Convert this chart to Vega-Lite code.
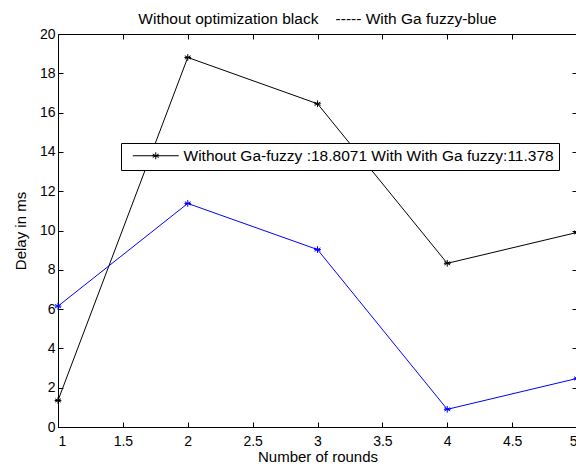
{
  "$schema": "https://vega.github.io/schema/vega-lite/v6.json",
  "width": 519,
  "height": 393,
  "autosize": {"type": "none"},
  "padding": {"left": 58, "top": 34, "right": 0, "bottom": 39},
  "background": "white",
  "config": {
    "font": "Liberation Sans",
    "view": {"stroke": null},
    "axis": {
      "grid": false,
      "domainColor": "black",
      "domainWidth": 1,
      "tickColor": "black",
      "tickSize": -5,
      "labelColor": "black",
      "labelFontSize": 14,
      "labelFont": "Liberation Sans",
      "titleFont": "Liberation Sans",
      "titleFontSize": 15,
      "titleFontWeight": "normal",
      "titleColor": "black"
    }
  },
  "title": {
    "text": "Without optimization black \u00a0 \u00a0----- With Ga fuzzy-blue",
    "fontSize": 15.5,
    "fontWeight": "normal",
    "color": "black",
    "font": "Liberation Sans",
    "offset": 0
  },
  "data": {
    "values": [
      {"round": 1, "delay": 1.35, "series": "Without Ga-fuzzy :18.8071 With With Ga fuzzy:11.378"},
      {"round": 2, "delay": 18.8071, "series": "Without Ga-fuzzy :18.8071 With With Ga fuzzy:11.378"},
      {"round": 3, "delay": 16.45, "series": "Without Ga-fuzzy :18.8071 With With Ga fuzzy:11.378"},
      {"round": 4, "delay": 8.33, "series": "Without Ga-fuzzy :18.8071 With With Ga fuzzy:11.378"},
      {"round": 5, "delay": 9.9, "series": "Without Ga-fuzzy :18.8071 With With Ga fuzzy:11.378"},
      {"round": 1, "delay": 6.15, "series": "With Ga fuzzy"},
      {"round": 2, "delay": 11.378, "series": "With Ga fuzzy"},
      {"round": 3, "delay": 9.03, "series": "With Ga fuzzy"},
      {"round": 4, "delay": 0.9, "series": "With Ga fuzzy"},
      {"round": 5, "delay": 2.47, "series": "With Ga fuzzy"}
    ]
  },
  "resolve": {"axis": {"x": "independent", "y": "independent"}},
  "layer": [
    {
      "mark": {"type": "line", "strokeWidth": 1},
      "encoding": {
        "x": {"field": "round", "type": "quantitative", "scale": {"domain": [1, 5], "nice": false, "zero": false},
              "axis": {"title": "Number of rounds", "values": [1, 1.5, 2, 2.5, 3, 3.5, 4, 4.5, 5], "labelPadding": 12, "titlePadding": 1, "format": "~g"}},
        "y": {"field": "delay", "type": "quantitative", "scale": {"domain": [0, 20], "nice": false},
              "axis": {"title": "Delay in ms", "values": [0, 2, 4, 6, 8, 10, 12, 14, 16, 18, 20], "labelPadding": 8, "titlePadding": 11}},
        "color": {"field": "series", "type": "nominal",
                  "scale": {"domain": ["Without Ga-fuzzy :18.8071 With With Ga fuzzy:11.378", "With Ga fuzzy"], "range": ["black", "#0000ff"]},
                  "legend": {"orient": "none", "legendX": 63, "legendY": 109, "title": null,
                             "values": ["Without Ga-fuzzy :18.8071 With With Ga fuzzy:11.378"],
                             "fillColor": "white", "strokeColor": "black", "padding": 5, "cornerRadius": 0,
                             "labelFontSize": 15.5, "labelColor": "black", "labelFont": "Liberation Sans", "labelLimit": 600,
                             "symbolType": "M-4.6,0H4.6M0,-0.7V0.7M-0.6,-0.35L0.6,0.35M-0.6,0.35L0.6,-0.35M-0.7,0H0.7",
                             "symbolSize": 100, "symbolOffset": 22, "symbolStrokeWidth": 1, "symbolStrokeColor": "black", "symbolFillColor": "transparent", "labelOffset": 20}}
      }
    },
    {
      "mark": {"type": "point", "shape": "M0,-1V1M-0.87,-0.5L0.87,0.5M-0.87,0.5L0.87,-0.5M-1,0H1", "filled": false, "size": 45, "strokeWidth": 1, "opacity": 1},
      "encoding": {
        "x": {"field": "round", "type": "quantitative", "axis": null},
        "y": {"field": "delay", "type": "quantitative", "axis": null},
        "color": {"field": "series", "type": "nominal", "legend": null}
      }
    },
    {
      "mark": {"type": "point", "opacity": 0},
      "encoding": {
        "x": {"field": "round", "type": "quantitative",
              "axis": {"orient": "top", "labels": false, "title": null, "values": [1, 1.5, 2, 2.5, 3, 3.5, 4, 4.5, 5]}},
        "y": {"field": "delay", "type": "quantitative",
              "axis": {"orient": "right", "labels": false, "title": null, "values": [0, 2, 4, 6, 8, 10, 12, 14, 16, 18, 20]}}
      }
    }
  ]
}
